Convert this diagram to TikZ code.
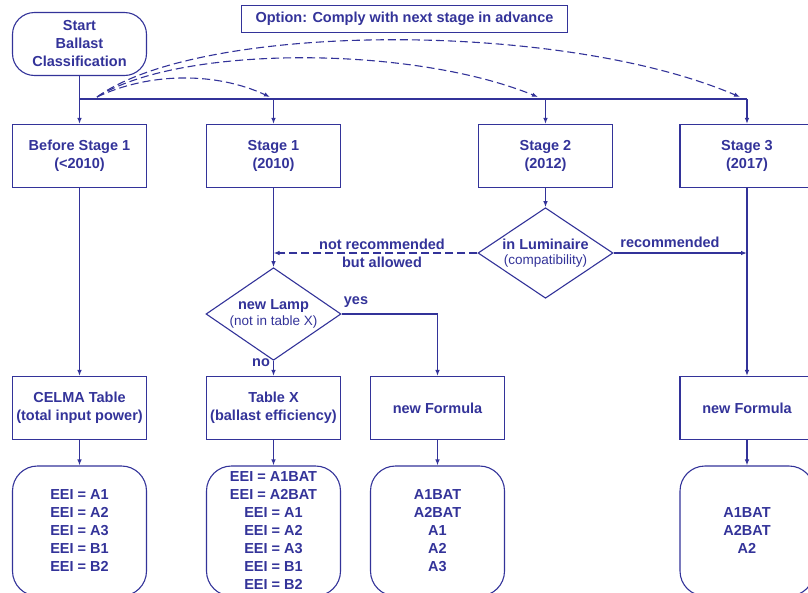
\documentclass[tikz,border=0pt]{standalone}
\usepackage{fontspec}
\setmainfont{Liberation Sans}
\usetikzlibrary{shapes.geometric,arrows.meta}
\definecolor{mb}{RGB}{51,51,153}
\newcommand{\mainfs}{\fontsize{14.5}{18}\selectfont\bfseries}
\newcommand{\smallfs}{\fontsize{13.5}{15}\selectfont\mdseries}
\tikzset{
  arr/.style={-{Latex[length=6pt,width=4.5pt]}},
  dsh/.style={dashed, dash pattern=on 8pt off 4pt},
  box/.style={draw=mb, rectangle, line width=1.1pt, minimum width=134pt, minimum height=63pt, align=center, font=\mainfs, text=mb, inner sep=0pt},
  rbox/.style={box, rounded corners=25pt, minimum height=130pt},
  dia/.style={draw=mb, diamond, line width=1.1pt, minimum width=135pt, minimum height=88pt, inner sep=-6pt, align=center, font=\mainfs, text=mb},
  lbl/.style={font=\mainfs, text=mb, align=center, inner sep=0pt}
}
\begin{document}
\begin{tikzpicture}[x=1pt,y=-1pt,color=mb,line width=1.1pt]
\useasboundingbox (0,0) rectangle (808,592);
% top
\node[box, rounded corners=22pt] (start) at (79.5,44) {Start\\Ballast\\Classification};
\node[box, minimum width=326pt, minimum height=27pt] (opt) at (404.5,19) {Option: Comply with next stage in advance};
% stage boxes
\node[box] (s0) at (79.5,156) {Before Stage 1\\(<2010)};
\node[box] (s1) at (273.5,156) {Stage 1\\(2010)};
\node[box] (s2) at (545.5,156) {Stage 2\\(2012)};
\node[box] (s3) at (747,156) {Stage 3\\(2017)};
% bus
\coordinate (b0) at (79.5,99);
\coordinate (b1) at (273.5,99);
\coordinate (b2) at (545.5,99);
\coordinate (b3) at (747,99);
\draw (start.south) -- (b0) -- (b3);
\draw[arr] (b0) -- (s0.north);
\draw[arr] (b1) -- (s1.north);
\draw[arr] (b2) -- (s2.north);
\draw[arr] (b3) -- (s3.north);
% dashed option curves
\coordinate (d0) at (97,97);
\coordinate (d1) at (270,97);
\coordinate (d2) at (538,97);
\coordinate (d3) at (740,97);
\draw[dsh, arr] (d0) .. controls (150,72) and (216,72) .. (d1);
\draw[dsh, arr] (d0) .. controls (180,45) and (410,45) .. (d2);
\draw[dsh, arr] (d0) .. controls (200,22) and (560,20) .. (d3);
% diamonds
\node[dia] (lum) at (545.5,253) {in Luminaire\\[-3pt]{\smallfs (compatibility)}};
\node[dia] (lamp) at (273.5,314) {new Lamp\\[-2pt]{\smallfs (not in table X)}};
\draw[arr] (s2.south) -- (lum.north);
\draw[arr] (s1.south) -- (lamp.north);
\coordinate (j1) at (273.5,253);
\coordinate (j3) at (747,253);
\draw[dsh, arr] (lum.west) -- (j1);
\draw[arr] (lum.east) -- (j3);
\node[lbl] (nr) at (382,253) {not recommended\\but allowed};
\node[lbl] (rec) at (670,242) {recommended};
% middle boxes
\node[box] (celma) at (79.5,408) {CELMA Table\\(total input power)};
\node[box] (tx) at (273.5,408) {Table X\\(ballast efficiency)};
\node[box] (nf2) at (437.5,408) {new Formula};
\node[box] (nf3) at (747,408) {new Formula};
\draw[arr] (s0.south) -- (celma.north);
\draw[arr] (s3.south) -- (nf3.north);
\draw[arr] (lamp.south) -- (tx.north);
\draw[arr] (lamp.east) -| (nf2.north);
\node[lbl] (yes) at (356,302) {yes};
\node[lbl] (no) at (261,363) {no};
% bottom boxes
\node[rbox] (r0) at (79.5,531) {EEI = A1\\EEI = A2\\EEI = A3\\EEI = B1\\EEI = B2};
\node[rbox] (r1) at (273.5,531) {EEI = A1BAT\\EEI = A2BAT\\EEI = A1\\EEI = A2\\EEI = A3\\EEI = B1\\EEI = B2};
\node[rbox] (r2) at (437.5,531) {A1BAT\\A2BAT\\A1\\A2\\A3};
\node[rbox] (r3) at (747,531) {A1BAT\\A2BAT\\A2};
\draw[arr] (celma.south) -- (r0.north);
\draw[arr] (tx.south) -- (r1.north);
\draw[arr] (nf2.south) -- (r2.north);
\draw[arr] (nf3.south) -- (r3.north);
\end{tikzpicture}
\end{document}
